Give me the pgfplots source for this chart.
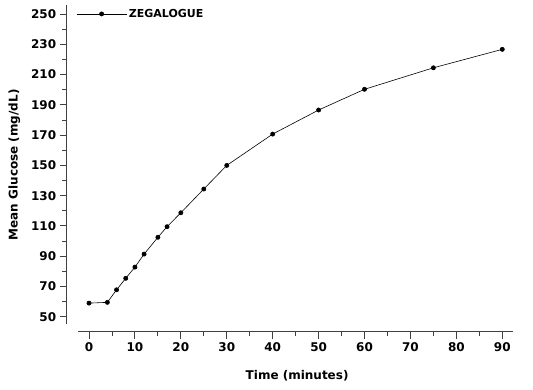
\documentclass[border=0pt]{standalone}
\usepackage{fontspec}
\setmainfont{DejaVu Sans}
\usepackage{pgfplots}
\pgfplotsset{compat=1.18}
\begin{document}
\begin{tikzpicture}
\path[use as bounding box] (-78.3pt,-65pt) rectangle (454.7pt,324pt);
\begin{axis}[
  at={(0,0)}, anchor=south west,
  width=435pt, height=319pt, scale only axis,
  xmin=-2.33, xmax=92.4, ymin=45.2, ymax=256,
  axis x line*=bottom, axis y line*=left,
  axis x line shift=7.7pt, axis y line shift=11.6pt,
  axis line style={line width=0.9pt, black!75},
  xtick={0,10,...,90}, ytick={50,70,...,250},
  minor x tick num=1, minor y tick num=1,
  tick align=outside,
  major tick length=7pt, minor tick length=4.5pt,
  every tick/.style={line width=0.9pt, black!75},
  tick label style={font=\bfseries\fontsize{12}{12}\selectfont},
  /pgf/number format/assume math mode=true,
  xlabel={Time (minutes)}, ylabel={Mean Glucose (mg/dL)},
  label style={font=\bfseries\fontsize{12}{12}\selectfont},
  xlabel style={at={(axis description cs:0.503,-0.163)}, anchor=center},
  ylabel style={at={(axis description cs:-0.147,0.499)}, anchor=center, rotate=0},
  legend style={draw=none, fill=none, at={(axis description cs:-0.012,0.972)}, anchor=west,
    font=\bfseries\fontsize{11}{11}\selectfont},
  legend image code/.code={
    \draw[#1, mark repeat=2, mark phase=2] plot coordinates {(0cm,0cm) (0.88cm,0cm) (1.76cm,0cm)};
  },
  clip=false,
]
\addplot[black, line width=0.6pt, mark=*, mark size=2.1pt] coordinates {
(0,59.0) (4,59.5) (6,67.8) (8,75.4) (10,82.8) (12,91.4) (15,102.5) (17,109.5)
(20,118.7) (25,134.4) (30,150.0) (40,170.7) (50,186.6) (60,200.3) (75,214.5) (90,226.7)
};
\addlegendentry{ZEGALOGUE}
\end{axis}
\end{tikzpicture}
\end{document}
